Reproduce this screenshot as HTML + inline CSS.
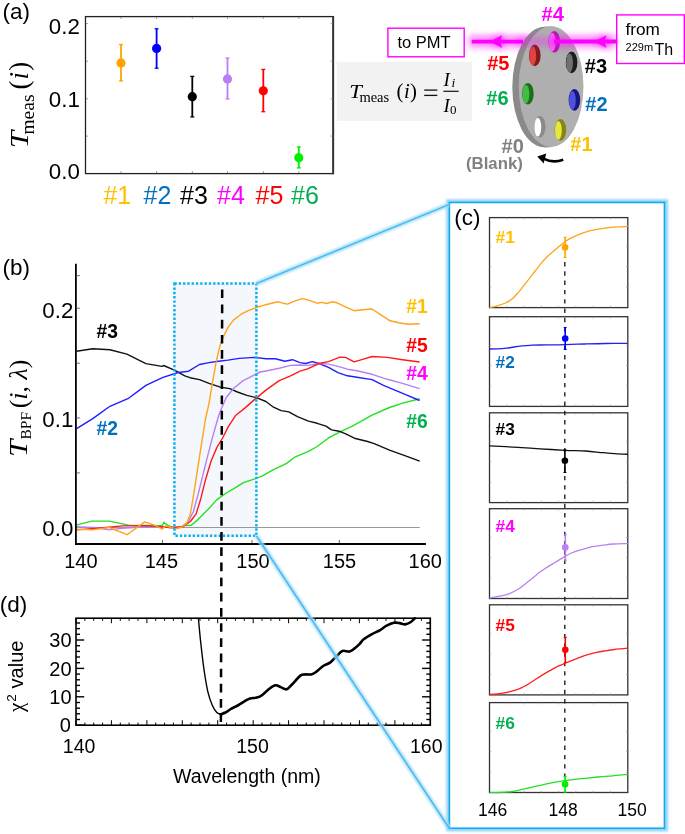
<!DOCTYPE html><html><head><meta charset="utf-8"><title>fig</title><style>
html,body{margin:0;padding:0;background:#fff;overflow:hidden;}svg{display:block;will-change:transform;}
text{font-family:"Liberation Sans", sans-serif;}
.sf{font-family:"Liberation Serif", serif;}
</style></head><body>
<svg width="685" height="834" viewBox="0 0 685 834">
<defs>
<filter id="glowM" filterUnits="userSpaceOnUse" x="0" y="0" width="685" height="834"><feGaussianBlur stdDeviation="3"/></filter>
<filter id="glowB" filterUnits="userSpaceOnUse" x="0" y="0" width="685" height="834"><feGaussianBlur stdDeviation="1.1"/></filter>
<filter id="noise" x="0" y="0" width="100%" height="100%"><feTurbulence type="fractalNoise" baseFrequency="0.9" numOctaves="2" seed="3" result="n"/><feColorMatrix in="n" type="matrix" values="0 0 0 0 0.5  0 0 0 0 0.5  0 0 0 0 0.5  0 0 0 0.35 0" result="g"/><feComposite in="g" in2="SourceGraphic" operator="in" result="gc"/><feBlend in="SourceGraphic" in2="gc" mode="multiply"/></filter>
</defs>
<rect width="685" height="834" fill="#fff"/>
<text x="2.6" y="19" font-size="22.5">(a)</text>
<rect x="85.5" y="16.6" width="247.7" height="157" fill="none" stroke="#222" stroke-width="1.3"/>
<line x1="333.2" y1="16" x2="333.2" y2="174.2" stroke="#333" stroke-width="1.9"/>
<line x1="86" y1="23.6" x2="88.2" y2="23.6" stroke="#888" stroke-width="0.8"/>
<line x1="330.6" y1="23.6" x2="332.8" y2="23.6" stroke="#888" stroke-width="0.8"/>
<line x1="86" y1="61.2" x2="88.2" y2="61.2" stroke="#888" stroke-width="0.8"/>
<line x1="330.6" y1="61.2" x2="332.8" y2="61.2" stroke="#888" stroke-width="0.8"/>
<line x1="86" y1="98.8" x2="88.2" y2="98.8" stroke="#888" stroke-width="0.8"/>
<line x1="330.6" y1="98.8" x2="332.8" y2="98.8" stroke="#888" stroke-width="0.8"/>
<line x1="86" y1="136.1" x2="88.2" y2="136.1" stroke="#888" stroke-width="0.8"/>
<line x1="330.6" y1="136.1" x2="332.8" y2="136.1" stroke="#888" stroke-width="0.8"/>
<line x1="121.0" y1="17" x2="121.0" y2="19" stroke="#888" stroke-width="0.8"/>
<line x1="121.0" y1="171" x2="121.0" y2="173" stroke="#888" stroke-width="0.8"/>
<line x1="156.6" y1="17" x2="156.6" y2="19" stroke="#888" stroke-width="0.8"/>
<line x1="156.6" y1="171" x2="156.6" y2="173" stroke="#888" stroke-width="0.8"/>
<line x1="192.3" y1="17" x2="192.3" y2="19" stroke="#888" stroke-width="0.8"/>
<line x1="192.3" y1="171" x2="192.3" y2="173" stroke="#888" stroke-width="0.8"/>
<line x1="227.5" y1="17" x2="227.5" y2="19" stroke="#888" stroke-width="0.8"/>
<line x1="227.5" y1="171" x2="227.5" y2="173" stroke="#888" stroke-width="0.8"/>
<line x1="263.3" y1="17" x2="263.3" y2="19" stroke="#888" stroke-width="0.8"/>
<line x1="263.3" y1="171" x2="263.3" y2="173" stroke="#888" stroke-width="0.8"/>
<line x1="298.8" y1="17" x2="298.8" y2="19" stroke="#888" stroke-width="0.8"/>
<line x1="298.8" y1="171" x2="298.8" y2="173" stroke="#888" stroke-width="0.8"/>
<text x="48.8" y="33.5" font-size="22.3">0.2</text>
<text x="48.8" y="106.5" font-size="22.3">0.1</text>
<text x="48.8" y="178.5" font-size="22.3">0.0</text>
<g transform="rotate(-90)">
<text transform="translate(-148.3,28.4) scale(1.2,1)" font-size="26" font-style="italic" class="sf">T</text>
<text x="-134.6" y="33.6" font-size="19.5" class="sf">meas</text>
<text x="-89.6" y="28.4" font-size="27" letter-spacing="1.2" class="sf">(<tspan font-style="italic">i</tspan>)</text>
</g>
<line x1="121.0" y1="44.5" x2="121.0" y2="81.0" stroke="#ffa500" stroke-width="1.8"/>
<line x1="119.0" y1="44.5" x2="123.0" y2="44.5" stroke="#ffa500" stroke-width="1.3"/>
<line x1="119.0" y1="81.0" x2="123.0" y2="81.0" stroke="#ffa500" stroke-width="1.3"/>
<circle cx="121.0" cy="62.9" r="4.6" fill="#ffa500"/>
<line x1="156.6" y1="28.8" x2="156.6" y2="68.2" stroke="#0000ff" stroke-width="1.8"/>
<line x1="154.6" y1="28.8" x2="158.6" y2="28.8" stroke="#0000ff" stroke-width="1.3"/>
<line x1="154.6" y1="68.2" x2="158.6" y2="68.2" stroke="#0000ff" stroke-width="1.3"/>
<circle cx="156.6" cy="48.4" r="4.6" fill="#0000ff"/>
<line x1="192.3" y1="76.4" x2="192.3" y2="116.9" stroke="#000000" stroke-width="1.8"/>
<line x1="190.3" y1="76.4" x2="194.3" y2="76.4" stroke="#000000" stroke-width="1.3"/>
<line x1="190.3" y1="116.9" x2="194.3" y2="116.9" stroke="#000000" stroke-width="1.3"/>
<circle cx="192.3" cy="96.7" r="4.6" fill="#000000"/>
<line x1="227.5" y1="58.0" x2="227.5" y2="99.0" stroke="#b87ff7" stroke-width="1.8"/>
<line x1="225.5" y1="58.0" x2="229.5" y2="58.0" stroke="#b87ff7" stroke-width="1.3"/>
<line x1="225.5" y1="99.0" x2="229.5" y2="99.0" stroke="#b87ff7" stroke-width="1.3"/>
<circle cx="227.5" cy="78.9" r="4.6" fill="#b87ff7"/>
<line x1="263.3" y1="69.4" x2="263.3" y2="111.7" stroke="#ff0000" stroke-width="1.8"/>
<line x1="261.3" y1="69.4" x2="265.3" y2="69.4" stroke="#ff0000" stroke-width="1.3"/>
<line x1="261.3" y1="111.7" x2="265.3" y2="111.7" stroke="#ff0000" stroke-width="1.3"/>
<circle cx="263.3" cy="90.8" r="4.6" fill="#ff0000"/>
<line x1="298.8" y1="146.9" x2="298.8" y2="167.9" stroke="#00ee00" stroke-width="1.8"/>
<line x1="296.8" y1="146.9" x2="300.8" y2="146.9" stroke="#00ee00" stroke-width="1.3"/>
<line x1="296.8" y1="167.9" x2="300.8" y2="167.9" stroke="#00ee00" stroke-width="1.3"/>
<circle cx="298.8" cy="157.7" r="4.6" fill="#00ee00"/>
<text x="103.4" y="203.8" font-size="25" fill="#ffc000">#1</text>
<text x="143.6" y="203.8" font-size="25" fill="#0070c0">#2</text>
<text x="180.0" y="203.8" font-size="25" fill="#000">#3</text>
<text x="217.0" y="203.8" font-size="25" fill="#ff00ff">#4</text>
<text x="255.5" y="203.8" font-size="25" fill="#ff0000">#5</text>
<text x="291.1" y="203.8" font-size="25" fill="#00b050">#6</text>
<rect x="336.6" y="62" width="135.3" height="58.8" fill="#f2f2f2"/>
<text transform="translate(349.2,97.7) scale(1.16,1)" font-size="19.5" font-style="italic" class="sf">T</text>
<text x="359.4" y="101.5" font-size="14.5" class="sf">meas</text>
<text x="396.6" y="98.2" font-size="20.8" letter-spacing="0.4" class="sf">(<tspan font-style="italic">i</tspan>)</text>
<line x1="424.2" y1="90.1" x2="437.3" y2="90.1" stroke="#111" stroke-width="1.3"/>
<line x1="424.2" y1="95.4" x2="437.3" y2="95.4" stroke="#111" stroke-width="1.3"/>
<line x1="443.4" y1="91.3" x2="458.7" y2="91.3" stroke="#111" stroke-width="1.2"/>
<text x="443.6" y="86.1" font-size="19" font-style="italic" class="sf">I</text>
<text x="451.6" y="87.4" font-size="13.5" font-style="italic" class="sf">i</text>
<text x="443.6" y="112.4" font-size="19" font-style="italic" class="sf">I</text>
<text x="450" y="114.4" font-size="13" class="sf">0</text>
<rect x="387.9" y="28.2" width="76.3" height="28.6" fill="#fff" stroke="#ff00ff" stroke-width="1.4"/>
<text x="397.5" y="48.3" font-size="16.5">to PMT</text>
<rect x="616.7" y="14.9" width="67.6" height="48.6" fill="#fff" stroke="#ff00ff" stroke-width="1.4"/>
<text x="625.5" y="35.3" font-size="17.2">from</text>
<text x="625.6" y="50.6" font-size="11">229m</text>
<text x="654.6" y="54.9" font-size="16">Th</text>
<line x1="469" y1="41.6" x2="530" y2="41.6" stroke="#ff00ff" stroke-width="12" stroke-opacity="0.48" filter="url(#glowM)"/>
<polygon points="488,41.6 503,33.5 503,49.7" fill="#ff00ff" fill-opacity="0.5" filter="url(#glowM)"/>
<ellipse cx="544.6" cy="87" rx="32.3" ry="60.3" fill="#8a8a8a"/>
<rect x="544.6" y="26.7" width="6.5" height="120.6" fill="#8a8a8a"/>
<ellipse cx="551.1" cy="86.6" rx="32.3" ry="60.3" fill="#b2b2b2"/>
<ellipse cx="551.1" cy="86.6" rx="32.3" ry="60.3" fill="#b2b2b2" filter="url(#noise)" opacity="0.3"/>
<ellipse cx="554.3" cy="41.8" rx="5.8" ry="10.8" fill="#a020a0"/>
<ellipse cx="552.3" cy="42.2" rx="3.4" ry="9.4" fill="#f070f0"/>
<ellipse cx="534.8" cy="55.4" rx="5.8" ry="10.8" fill="#861818"/>
<ellipse cx="532.8" cy="55.8" rx="3.4" ry="9.4" fill="#dd4444"/>
<ellipse cx="571.6" cy="62.4" rx="5.8" ry="10.8" fill="#1c1c1c"/>
<ellipse cx="569.6" cy="62.8" rx="3.4" ry="9.4" fill="#707070"/>
<ellipse cx="527.9" cy="93.7" rx="5.8" ry="10.8" fill="#1a701a"/>
<ellipse cx="525.9" cy="94.1" rx="3.4" ry="9.4" fill="#44bb44"/>
<ellipse cx="574.4" cy="99.9" rx="5.8" ry="10.8" fill="#161680"/>
<ellipse cx="572.4" cy="100.3" rx="3.4" ry="9.4" fill="#5050e0"/>
<ellipse cx="539.8" cy="126.7" rx="5.8" ry="10.8" fill="#8a8a8a"/>
<ellipse cx="537.8" cy="127.1" rx="3.4" ry="9.4" fill="#ffffff"/>
<ellipse cx="560.4" cy="129.9" rx="5.8" ry="10.8" fill="#86860e"/>
<ellipse cx="558.4" cy="130.3" rx="3.4" ry="9.4" fill="#e6e640"/>
<line x1="517" y1="41.6" x2="556" y2="41.6" stroke="#ff00ff" stroke-width="9" stroke-opacity="0.32" filter="url(#glowM)"/>
<line x1="553" y1="41.6" x2="616" y2="41.6" stroke="#ff00ff" stroke-width="12" stroke-opacity="0.48" filter="url(#glowM)"/>
<polygon points="592.5,41.6 607.5,33.5 607.5,49.7" fill="#ff00ff" fill-opacity="0.5" filter="url(#glowM)"/>
<line x1="554" y1="41.6" x2="616" y2="41.6" stroke="#ff00ff" stroke-width="4"/>
<polygon points="594,41.6 606.5,35.2 604.5,41.6 606.5,48" fill="#ff00ff"/>
<line x1="471.7" y1="41.6" x2="523" y2="41.6" stroke="#ff00ff" stroke-width="3.6"/>
<polygon points="489.5,41.6 502.2,35.2 500.2,41.6 502.2,48" fill="#ff00ff"/>
<text x="541.6" y="21" font-size="20" font-weight="bold" fill="#ff00ff">#4</text>
<text x="487.2" y="70.2" font-size="20" font-weight="bold" fill="#ff0000">#5</text>
<text x="584.8" y="73" font-size="20" font-weight="bold" fill="#000">#3</text>
<text x="486.3" y="105.2" font-size="20" font-weight="bold" fill="#00b050">#6</text>
<text x="585.3" y="110.6" font-size="20" font-weight="bold" fill="#0070c0">#2</text>
<text x="570.3" y="151.3" font-size="20" font-weight="bold" fill="#ffc000">#1</text>
<text x="501.6" y="153.3" font-size="20" font-weight="bold" fill="#808080">#0</text>
<text x="466" y="168.6" font-size="16.8" font-weight="bold" fill="#808080">(Blank)</text>
<path d="M563.2,159.7 Q553,163.5 543.5,158.6" fill="none" stroke="#000" stroke-width="2.6"/>
<polygon points="537.3,156.6 546.3,153.6 543.6,163.6" fill="#000"/>
<text x="2.6" y="275.4" font-size="22.5">(b)</text>
<rect x="174.4" y="283.5" width="82" height="252.3" fill="#f4f8fc"/>
<line x1="76" y1="527.5" x2="419.8" y2="527.5" stroke="#999" stroke-width="1"/>
<polyline points="76.2,525.1 91.7,521.1 109.3,521.1 128.6,525.1 162.3,525.6 163.9,522.3 167.6,525.3 175.2,528.1 184.7,525.6 191.3,525.3 198.0,519.6 207.4,510.1 216.9,499.6 226.4,493.0 235.9,487.3 243.5,482.6 254.9,478.8 262.5,475.9 273.9,469.3 280.0,466.6 286.6,463.4 295.3,456.8 308.5,451.3 317.2,446.5 328.2,438.2 339.1,432.3 352.3,426.1 363.2,420.2 372.0,415.2 389.5,407.5 402.6,403.1 419.7,398.8" fill="none" stroke="#22e022" stroke-width="1.40" stroke-linejoin="round"/>
<polyline points="76.6,351.2 92.8,348.8 109.9,349.7 126.9,354.1 145.9,363.6 162.0,366.4 163.6,365.5 174.4,370.2 184.8,375.9 190.0,377.7 199.5,379.6 209.0,383.4 220.4,387.2 229.9,388.6 237.4,392.0 246.9,395.4 256.4,397.7 265.9,401.5 273.5,407.2 281.1,410.6 288.8,411.9 297.5,416.7 308.5,421.1 317.2,423.3 326.0,426.1 331.5,429.9 339.1,431.2 345.7,433.8 354.4,438.2 367.6,441.5 374.2,443.6 389.5,450.2 404.8,455.7 419.7,461.2" fill="none" stroke="#111" stroke-width="1.40" stroke-linejoin="round"/>
<polyline points="76.6,428.7 92.8,418.6 109.9,406.3 127.9,398.7 145.9,385.4 163.0,377.4 178.2,372.5 188.6,371.2 199.5,364.5 209.0,362.6 218.5,361.2 228.0,360.1 239.3,358.4 254.5,357.4 265.9,358.8 275.4,358.8 284.9,361.2 292.5,359.7 300.0,362.6 305.7,363.5 312.3,361.6 319.0,363.5 328.5,367.3 338.0,372.6 347.4,375.8 356.9,377.2 372.1,379.6 383.5,385.3 394.9,390.1 406.3,394.8 419.6,400.5" fill="none" stroke="#1f1fff" stroke-width="1.40" stroke-linejoin="round"/>
<polyline points="76.2,526.7 93.3,527.5 109.3,529.9 122.2,528.3 146.3,526.7 163.9,526.7 173.6,528.3 180.9,527.2 188.5,521.5 193.2,512.0 198.0,494.9 202.7,475.9 207.4,456.9 213.1,435.1 218.8,415.2 221.3,409.1 226.1,397.7 233.7,388.2 243.1,380.6 252.6,375.8 260.2,372.0 269.7,370.2 279.2,368.3 290.6,365.4 300.1,365.0 307.6,365.4 319.0,363.5 328.5,364.1 338.0,366.4 347.4,369.2 356.9,370.7 372.1,374.3 387.3,379.3 402.5,383.4 419.6,388.6" fill="none" stroke="#b77ff5" stroke-width="1.40" stroke-linejoin="round"/>
<polyline points="76.2,529.9 98.1,528.3 122.2,525.9 146.3,525.6 170.4,527.5 182.8,526.8 190.4,521.5 196.1,513.9 200.8,498.7 205.5,479.7 211.2,460.7 216.9,447.4 222.6,438.0 228.3,426.6 235.9,415.2 245.4,407.6 254.5,399.6 265.9,390.1 279.2,380.6 290.6,375.8 300.0,371.1 307.6,368.8 319.0,363.5 328.5,361.6 339.9,357.2 345.5,357.4 354.1,361.9 362.6,359.3 372.1,356.5 387.3,357.4 402.5,359.7 419.6,362.0" fill="none" stroke="#ff1a1a" stroke-width="1.40" stroke-linejoin="round"/>
<polyline points="76.2,529.1 91.7,529.9 109.3,527.5 127.0,534.7 144.7,521.9 154.3,525.1 162.3,529.1 165.5,525.9 175.2,528.7 180.9,527.5 186.6,523.4 190.4,513.9 194.2,491.1 198.0,466.4 201.8,441.8 205.5,419.0 209.0,403.4 212.8,380.6 216.6,359.7 220.4,344.5 224.2,335.0 228.0,327.4 233.7,319.9 241.2,314.2 248.8,310.4 256.4,307.5 265.9,304.7 273.5,302.8 278.3,301.8 283.0,303.2 287.7,304.1 292.5,301.8 302.0,298.6 307.6,299.9 317.1,303.2 321.8,302.4 326.6,303.5 332.3,301.8 337.0,302.8 345.5,306.9 354.1,310.7 362.6,309.8 372.1,309.0 379.7,314.2 390.1,320.8 398.7,322.7 408.2,324.2 419.6,323.7" fill="none" stroke="#ffa31a" stroke-width="1.40" stroke-linejoin="round"/>
<rect x="174.4" y="283.5" width="82" height="252.3" fill="none" stroke="#0db0f0" stroke-width="2.5" stroke-dasharray="2.4 1.9"/>
<line x1="222.2" y1="289.4" x2="220.9" y2="722" stroke="#000" stroke-width="2.5" stroke-dasharray="8.7 6.47"/>
<line x1="75.9" y1="263.8" x2="75.9" y2="544.8" stroke="#000" stroke-width="1.8"/>
<line x1="75" y1="544" x2="425.9" y2="544" stroke="#000" stroke-width="1.9"/>
<line x1="76" y1="275.6" x2="79.8" y2="275.6" stroke="#555" stroke-width="0.9"/>
<line x1="76" y1="308.2" x2="79.8" y2="308.2" stroke="#555" stroke-width="0.9"/>
<line x1="76" y1="363.2" x2="79.8" y2="363.2" stroke="#555" stroke-width="0.9"/>
<line x1="76" y1="417.9" x2="79.8" y2="417.9" stroke="#555" stroke-width="0.9"/>
<line x1="76" y1="472.9" x2="79.8" y2="472.9" stroke="#555" stroke-width="0.9"/>
<line x1="162.5" y1="543" x2="162.5" y2="540" stroke="#555" stroke-width="0.9"/>
<line x1="252.0" y1="543" x2="252.0" y2="540" stroke="#555" stroke-width="0.9"/>
<line x1="339.3" y1="543" x2="339.3" y2="540" stroke="#555" stroke-width="0.9"/>
<text x="42.3" y="318.0" font-size="22.3">0.2</text>
<text x="42.3" y="427.0" font-size="22.3">0.1</text>
<text x="42.3" y="536.2" font-size="22.3">0.0</text>
<text x="64.2" y="568" font-size="20">140</text>
<text x="144.7" y="568" font-size="20">145</text>
<text x="236.3" y="568" font-size="20">150</text>
<text x="322.8" y="568" font-size="20">155</text>
<text x="408.6" y="568" font-size="20">160</text>
<text x="96.6" y="338.2" font-size="19.3" font-weight="bold" fill="#000">#3</text>
<text x="96.6" y="434.5" font-size="19.3" font-weight="bold" fill="#0070c0">#2</text>
<text x="406.2" y="313.3" font-size="19.3" font-weight="bold" fill="#ffc000">#1</text>
<text x="406.2" y="351.9" font-size="19.3" font-weight="bold" fill="#ff0000">#5</text>
<text x="406.2" y="379.8" font-size="19.3" font-weight="bold" fill="#ff00ff">#4</text>
<text x="406.2" y="427.5" font-size="19.3" font-weight="bold" fill="#00b050">#6</text>
<g transform="rotate(-90)">
<text transform="translate(-457,27) scale(1.2,1)" font-size="26" font-style="italic" class="sf">T</text>
<text x="-439.5" y="30.6" font-size="15.5" class="sf">BPF</text>
<text x="-408.3" y="27" font-size="26" class="sf">(<tspan font-style="italic">i</tspan>, <tspan font-style="italic">λ</tspan>)</text>
</g>
<text x="-0.3" y="611.9" font-size="22.5">(d)</text>
<rect x="76" y="618.2" width="354.3" height="107" fill="none" stroke="#000" stroke-width="1.6"/>
<line x1="76" y1="725.2" x2="84.2" y2="725.2" stroke="#000" stroke-width="1.4"/>
<line x1="430.3" y1="725.2" x2="422.1" y2="725.2" stroke="#000" stroke-width="1.4"/>
<line x1="76" y1="719.5" x2="80.0" y2="719.5" stroke="#000" stroke-width="1.4"/>
<line x1="430.3" y1="719.5" x2="426.3" y2="719.5" stroke="#000" stroke-width="1.4"/>
<line x1="76" y1="713.8" x2="80.0" y2="713.8" stroke="#000" stroke-width="1.4"/>
<line x1="430.3" y1="713.8" x2="426.3" y2="713.8" stroke="#000" stroke-width="1.4"/>
<line x1="76" y1="708.2" x2="80.0" y2="708.2" stroke="#000" stroke-width="1.4"/>
<line x1="430.3" y1="708.2" x2="426.3" y2="708.2" stroke="#000" stroke-width="1.4"/>
<line x1="76" y1="702.5" x2="80.0" y2="702.5" stroke="#000" stroke-width="1.4"/>
<line x1="430.3" y1="702.5" x2="426.3" y2="702.5" stroke="#000" stroke-width="1.4"/>
<line x1="76" y1="696.8" x2="84.2" y2="696.8" stroke="#000" stroke-width="1.4"/>
<line x1="430.3" y1="696.8" x2="422.1" y2="696.8" stroke="#000" stroke-width="1.4"/>
<line x1="76" y1="691.1" x2="80.0" y2="691.1" stroke="#000" stroke-width="1.4"/>
<line x1="430.3" y1="691.1" x2="426.3" y2="691.1" stroke="#000" stroke-width="1.4"/>
<line x1="76" y1="685.4" x2="80.0" y2="685.4" stroke="#000" stroke-width="1.4"/>
<line x1="430.3" y1="685.4" x2="426.3" y2="685.4" stroke="#000" stroke-width="1.4"/>
<line x1="76" y1="679.8" x2="80.0" y2="679.8" stroke="#000" stroke-width="1.4"/>
<line x1="430.3" y1="679.8" x2="426.3" y2="679.8" stroke="#000" stroke-width="1.4"/>
<line x1="76" y1="674.1" x2="80.0" y2="674.1" stroke="#000" stroke-width="1.4"/>
<line x1="430.3" y1="674.1" x2="426.3" y2="674.1" stroke="#000" stroke-width="1.4"/>
<line x1="76" y1="668.4" x2="84.2" y2="668.4" stroke="#000" stroke-width="1.4"/>
<line x1="430.3" y1="668.4" x2="422.1" y2="668.4" stroke="#000" stroke-width="1.4"/>
<line x1="76" y1="662.7" x2="80.0" y2="662.7" stroke="#000" stroke-width="1.4"/>
<line x1="430.3" y1="662.7" x2="426.3" y2="662.7" stroke="#000" stroke-width="1.4"/>
<line x1="76" y1="657.0" x2="80.0" y2="657.0" stroke="#000" stroke-width="1.4"/>
<line x1="430.3" y1="657.0" x2="426.3" y2="657.0" stroke="#000" stroke-width="1.4"/>
<line x1="76" y1="651.4" x2="80.0" y2="651.4" stroke="#000" stroke-width="1.4"/>
<line x1="430.3" y1="651.4" x2="426.3" y2="651.4" stroke="#000" stroke-width="1.4"/>
<line x1="76" y1="645.7" x2="80.0" y2="645.7" stroke="#000" stroke-width="1.4"/>
<line x1="430.3" y1="645.7" x2="426.3" y2="645.7" stroke="#000" stroke-width="1.4"/>
<line x1="76" y1="640.0" x2="84.2" y2="640.0" stroke="#000" stroke-width="1.4"/>
<line x1="430.3" y1="640.0" x2="422.1" y2="640.0" stroke="#000" stroke-width="1.4"/>
<line x1="76" y1="634.3" x2="80.0" y2="634.3" stroke="#000" stroke-width="1.4"/>
<line x1="430.3" y1="634.3" x2="426.3" y2="634.3" stroke="#000" stroke-width="1.4"/>
<line x1="76" y1="628.6" x2="80.0" y2="628.6" stroke="#000" stroke-width="1.4"/>
<line x1="430.3" y1="628.6" x2="426.3" y2="628.6" stroke="#000" stroke-width="1.4"/>
<line x1="76" y1="623.0" x2="80.0" y2="623.0" stroke="#000" stroke-width="1.4"/>
<line x1="430.3" y1="623.0" x2="426.3" y2="623.0" stroke="#000" stroke-width="1.4"/>
<line x1="76.0" y1="725.2" x2="76.0" y2="720.2" stroke="#000" stroke-width="1"/>
<line x1="76.0" y1="618.2" x2="76.0" y2="623.2" stroke="#000" stroke-width="1"/>
<line x1="84.9" y1="725.2" x2="84.9" y2="722.6" stroke="#000" stroke-width="1"/>
<line x1="84.9" y1="618.2" x2="84.9" y2="620.8" stroke="#000" stroke-width="1"/>
<line x1="93.7" y1="725.2" x2="93.7" y2="722.6" stroke="#000" stroke-width="1"/>
<line x1="93.7" y1="618.2" x2="93.7" y2="620.8" stroke="#000" stroke-width="1"/>
<line x1="102.6" y1="725.2" x2="102.6" y2="722.6" stroke="#000" stroke-width="1"/>
<line x1="102.6" y1="618.2" x2="102.6" y2="620.8" stroke="#000" stroke-width="1"/>
<line x1="111.4" y1="725.2" x2="111.4" y2="720.2" stroke="#000" stroke-width="1"/>
<line x1="111.4" y1="618.2" x2="111.4" y2="623.2" stroke="#000" stroke-width="1"/>
<line x1="120.3" y1="725.2" x2="120.3" y2="722.6" stroke="#000" stroke-width="1"/>
<line x1="120.3" y1="618.2" x2="120.3" y2="620.8" stroke="#000" stroke-width="1"/>
<line x1="129.1" y1="725.2" x2="129.1" y2="722.6" stroke="#000" stroke-width="1"/>
<line x1="129.1" y1="618.2" x2="129.1" y2="620.8" stroke="#000" stroke-width="1"/>
<line x1="138.0" y1="725.2" x2="138.0" y2="722.6" stroke="#000" stroke-width="1"/>
<line x1="138.0" y1="618.2" x2="138.0" y2="620.8" stroke="#000" stroke-width="1"/>
<line x1="146.9" y1="725.2" x2="146.9" y2="720.2" stroke="#000" stroke-width="1"/>
<line x1="146.9" y1="618.2" x2="146.9" y2="623.2" stroke="#000" stroke-width="1"/>
<line x1="155.7" y1="725.2" x2="155.7" y2="722.6" stroke="#000" stroke-width="1"/>
<line x1="155.7" y1="618.2" x2="155.7" y2="620.8" stroke="#000" stroke-width="1"/>
<line x1="164.6" y1="725.2" x2="164.6" y2="722.6" stroke="#000" stroke-width="1"/>
<line x1="164.6" y1="618.2" x2="164.6" y2="620.8" stroke="#000" stroke-width="1"/>
<line x1="173.4" y1="725.2" x2="173.4" y2="722.6" stroke="#000" stroke-width="1"/>
<line x1="173.4" y1="618.2" x2="173.4" y2="620.8" stroke="#000" stroke-width="1"/>
<line x1="182.3" y1="725.2" x2="182.3" y2="720.2" stroke="#000" stroke-width="1"/>
<line x1="182.3" y1="618.2" x2="182.3" y2="623.2" stroke="#000" stroke-width="1"/>
<line x1="191.1" y1="725.2" x2="191.1" y2="722.6" stroke="#000" stroke-width="1"/>
<line x1="191.1" y1="618.2" x2="191.1" y2="620.8" stroke="#000" stroke-width="1"/>
<line x1="200.0" y1="725.2" x2="200.0" y2="722.6" stroke="#000" stroke-width="1"/>
<line x1="200.0" y1="618.2" x2="200.0" y2="620.8" stroke="#000" stroke-width="1"/>
<line x1="208.9" y1="725.2" x2="208.9" y2="722.6" stroke="#000" stroke-width="1"/>
<line x1="208.9" y1="618.2" x2="208.9" y2="620.8" stroke="#000" stroke-width="1"/>
<line x1="217.7" y1="725.2" x2="217.7" y2="720.2" stroke="#000" stroke-width="1"/>
<line x1="217.7" y1="618.2" x2="217.7" y2="623.2" stroke="#000" stroke-width="1"/>
<line x1="226.6" y1="725.2" x2="226.6" y2="722.6" stroke="#000" stroke-width="1"/>
<line x1="226.6" y1="618.2" x2="226.6" y2="620.8" stroke="#000" stroke-width="1"/>
<line x1="235.4" y1="725.2" x2="235.4" y2="722.6" stroke="#000" stroke-width="1"/>
<line x1="235.4" y1="618.2" x2="235.4" y2="620.8" stroke="#000" stroke-width="1"/>
<line x1="244.3" y1="725.2" x2="244.3" y2="722.6" stroke="#000" stroke-width="1"/>
<line x1="244.3" y1="618.2" x2="244.3" y2="620.8" stroke="#000" stroke-width="1"/>
<line x1="253.2" y1="725.2" x2="253.2" y2="720.2" stroke="#000" stroke-width="1"/>
<line x1="253.2" y1="618.2" x2="253.2" y2="623.2" stroke="#000" stroke-width="1"/>
<line x1="262.0" y1="725.2" x2="262.0" y2="722.6" stroke="#000" stroke-width="1"/>
<line x1="262.0" y1="618.2" x2="262.0" y2="620.8" stroke="#000" stroke-width="1"/>
<line x1="270.9" y1="725.2" x2="270.9" y2="722.6" stroke="#000" stroke-width="1"/>
<line x1="270.9" y1="618.2" x2="270.9" y2="620.8" stroke="#000" stroke-width="1"/>
<line x1="279.7" y1="725.2" x2="279.7" y2="722.6" stroke="#000" stroke-width="1"/>
<line x1="279.7" y1="618.2" x2="279.7" y2="620.8" stroke="#000" stroke-width="1"/>
<line x1="288.6" y1="725.2" x2="288.6" y2="720.2" stroke="#000" stroke-width="1"/>
<line x1="288.6" y1="618.2" x2="288.6" y2="623.2" stroke="#000" stroke-width="1"/>
<line x1="297.4" y1="725.2" x2="297.4" y2="722.6" stroke="#000" stroke-width="1"/>
<line x1="297.4" y1="618.2" x2="297.4" y2="620.8" stroke="#000" stroke-width="1"/>
<line x1="306.3" y1="725.2" x2="306.3" y2="722.6" stroke="#000" stroke-width="1"/>
<line x1="306.3" y1="618.2" x2="306.3" y2="620.8" stroke="#000" stroke-width="1"/>
<line x1="315.2" y1="725.2" x2="315.2" y2="722.6" stroke="#000" stroke-width="1"/>
<line x1="315.2" y1="618.2" x2="315.2" y2="620.8" stroke="#000" stroke-width="1"/>
<line x1="324.0" y1="725.2" x2="324.0" y2="720.2" stroke="#000" stroke-width="1"/>
<line x1="324.0" y1="618.2" x2="324.0" y2="623.2" stroke="#000" stroke-width="1"/>
<line x1="332.9" y1="725.2" x2="332.9" y2="722.6" stroke="#000" stroke-width="1"/>
<line x1="332.9" y1="618.2" x2="332.9" y2="620.8" stroke="#000" stroke-width="1"/>
<line x1="341.7" y1="725.2" x2="341.7" y2="722.6" stroke="#000" stroke-width="1"/>
<line x1="341.7" y1="618.2" x2="341.7" y2="620.8" stroke="#000" stroke-width="1"/>
<line x1="350.6" y1="725.2" x2="350.6" y2="722.6" stroke="#000" stroke-width="1"/>
<line x1="350.6" y1="618.2" x2="350.6" y2="620.8" stroke="#000" stroke-width="1"/>
<line x1="359.4" y1="725.2" x2="359.4" y2="720.2" stroke="#000" stroke-width="1"/>
<line x1="359.4" y1="618.2" x2="359.4" y2="623.2" stroke="#000" stroke-width="1"/>
<line x1="368.3" y1="725.2" x2="368.3" y2="722.6" stroke="#000" stroke-width="1"/>
<line x1="368.3" y1="618.2" x2="368.3" y2="620.8" stroke="#000" stroke-width="1"/>
<line x1="377.2" y1="725.2" x2="377.2" y2="722.6" stroke="#000" stroke-width="1"/>
<line x1="377.2" y1="618.2" x2="377.2" y2="620.8" stroke="#000" stroke-width="1"/>
<line x1="386.0" y1="725.2" x2="386.0" y2="722.6" stroke="#000" stroke-width="1"/>
<line x1="386.0" y1="618.2" x2="386.0" y2="620.8" stroke="#000" stroke-width="1"/>
<line x1="394.9" y1="725.2" x2="394.9" y2="720.2" stroke="#000" stroke-width="1"/>
<line x1="394.9" y1="618.2" x2="394.9" y2="623.2" stroke="#000" stroke-width="1"/>
<line x1="403.7" y1="725.2" x2="403.7" y2="722.6" stroke="#000" stroke-width="1"/>
<line x1="403.7" y1="618.2" x2="403.7" y2="620.8" stroke="#000" stroke-width="1"/>
<line x1="412.6" y1="725.2" x2="412.6" y2="722.6" stroke="#000" stroke-width="1"/>
<line x1="412.6" y1="618.2" x2="412.6" y2="620.8" stroke="#000" stroke-width="1"/>
<line x1="421.4" y1="725.2" x2="421.4" y2="722.6" stroke="#000" stroke-width="1"/>
<line x1="421.4" y1="618.2" x2="421.4" y2="620.8" stroke="#000" stroke-width="1"/>
<line x1="430.3" y1="725.2" x2="430.3" y2="720.2" stroke="#000" stroke-width="1"/>
<line x1="430.3" y1="618.2" x2="430.3" y2="623.2" stroke="#000" stroke-width="1"/>
<text x="49.3" y="647.2" font-size="20">30</text>
<text x="49.3" y="675.6" font-size="20">20</text>
<text x="49.3" y="704.0" font-size="20">10</text>
<text x="59.8" y="732.2" font-size="20">0</text>
<text x="62.8" y="753" font-size="19.5">140</text>
<text x="236.2" y="753" font-size="19.5">150</text>
<text x="410.0" y="753" font-size="19.5">160</text>
<text x="173" y="783.3" font-size="19.5">Wavelength (nm)</text>
<g transform="rotate(-90)">
<text x="-712" y="22.6" font-size="21" class="sf">χ</text>
<text x="-701.8" y="16.3" font-size="13.5">2</text>
<text x="-688.4" y="22.6" font-size="20">value</text>
</g>
<path d="M198.4,618.2 C198.8,622.7 200.0,635.9 201.0,645.0 C202.0,654.1 203.3,665.1 204.5,673.0 C205.7,680.9 206.7,686.9 208.0,692.3 C209.3,697.7 210.9,702.1 212.4,705.5 C213.9,708.9 215.4,711.0 216.8,712.5 C218.2,714.0 220.1,713.9 220.8,714.2" fill="none" stroke="#000" stroke-width="1.4"/>
<path d="M220.8,714.2 C221.6,713.9 223.8,713.4 225.5,712.5 C227.2,711.6 228.8,710.2 230.8,709.0 C232.9,707.8 235.5,706.8 237.8,705.5 C240.1,704.2 242.8,702.3 244.8,701.1 C246.8,699.9 248.0,699.1 250.0,698.5 C252.0,697.9 254.9,698.2 257.0,697.6 C259.1,697.0 260.2,696.5 262.3,695.0 C264.4,693.5 267.1,690.4 269.3,688.8 C271.5,687.2 273.6,685.6 275.5,685.3 C277.4,685.0 278.8,686.4 280.7,687.1 C282.6,687.8 284.7,689.7 286.6,689.3 C288.5,688.9 289.7,686.8 292.0,684.5 C294.3,682.2 298.2,677.3 300.4,675.6 C302.6,673.9 303.4,674.6 305.2,674.4 C307.0,674.2 309.4,674.8 311.2,674.4 C313.0,674.0 314.0,673.4 316.0,672.0 C318.0,670.6 320.8,667.6 323.2,666.0 C325.6,664.4 328.2,664.0 330.4,662.4 C332.6,660.8 334.4,658.3 336.4,656.4 C338.4,654.5 340.2,651.8 342.4,651.0 C344.6,650.2 347.5,652.0 349.5,651.6 C351.5,651.2 352.6,649.9 354.3,648.6 C356.0,647.3 358.1,645.4 359.7,643.8 C361.3,642.2 361.9,640.6 364.0,639.0 C366.1,637.4 369.3,635.6 372.0,634.1 C374.7,632.6 377.7,631.5 380.1,630.1 C382.5,628.7 384.3,626.9 386.6,625.7 C388.9,624.5 391.7,623.2 393.9,622.8 C396.1,622.4 397.7,622.8 399.6,623.1 C401.5,623.4 403.3,624.6 405.2,624.4 C407.1,624.2 409.3,623.0 410.9,622.0 C412.5,621.0 414.2,618.9 414.9,618.3" fill="none" stroke="#000" stroke-width="2.6" stroke-linejoin="round" stroke-linecap="round"/>
<rect x="447.8" y="200.9" width="218.6" height="628.9" fill="none" stroke="#8fd3f7" stroke-width="3.2" filter="url(#glowB)"/>
<rect x="449.3" y="202.4" width="215.2" height="625.9" fill="none" stroke="#15a8ec" stroke-width="1.6"/>
<line x1="256.4" y1="283.5" x2="448.6" y2="204.7" stroke="#9fdbf9" stroke-width="4.2" filter="url(#glowB)"/>
<line x1="256.4" y1="283.5" x2="448.6" y2="204.7" stroke="#3cb5ee" stroke-width="1.2"/>
<line x1="256.4" y1="535.8" x2="449.3" y2="828.3" stroke="#9fdbf9" stroke-width="4.2" filter="url(#glowB)"/>
<line x1="256.4" y1="535.8" x2="449.3" y2="828.3" stroke="#3cb5ee" stroke-width="1.2"/>
<text x="454.3" y="225.1" font-size="22.5">(c)</text>
<rect x="489.5" y="217.6" width="138.3" height="90.0" fill="#fff" stroke="#333" stroke-width="1.3"/>
<line x1="506.8" y1="217.6" x2="506.8" y2="219.4" stroke="#999" stroke-width="0.7"/>
<line x1="506.8" y1="307.6" x2="506.8" y2="305.8" stroke="#999" stroke-width="0.7"/>
<line x1="524.1" y1="217.6" x2="524.1" y2="219.4" stroke="#999" stroke-width="0.7"/>
<line x1="524.1" y1="307.6" x2="524.1" y2="305.8" stroke="#999" stroke-width="0.7"/>
<line x1="541.4" y1="217.6" x2="541.4" y2="219.4" stroke="#999" stroke-width="0.7"/>
<line x1="541.4" y1="307.6" x2="541.4" y2="305.8" stroke="#999" stroke-width="0.7"/>
<line x1="558.6" y1="217.6" x2="558.6" y2="219.4" stroke="#999" stroke-width="0.7"/>
<line x1="558.6" y1="307.6" x2="558.6" y2="305.8" stroke="#999" stroke-width="0.7"/>
<line x1="575.9" y1="217.6" x2="575.9" y2="219.4" stroke="#999" stroke-width="0.7"/>
<line x1="575.9" y1="307.6" x2="575.9" y2="305.8" stroke="#999" stroke-width="0.7"/>
<line x1="593.2" y1="217.6" x2="593.2" y2="219.4" stroke="#999" stroke-width="0.7"/>
<line x1="593.2" y1="307.6" x2="593.2" y2="305.8" stroke="#999" stroke-width="0.7"/>
<line x1="610.5" y1="217.6" x2="610.5" y2="219.4" stroke="#999" stroke-width="0.7"/>
<line x1="610.5" y1="307.6" x2="610.5" y2="305.8" stroke="#999" stroke-width="0.7"/>
<line x1="489.5" y1="287.1" x2="491.3" y2="287.1" stroke="#999" stroke-width="0.7"/>
<line x1="627.8" y1="287.1" x2="626.0" y2="287.1" stroke="#999" stroke-width="0.7"/>
<line x1="489.5" y1="266.7" x2="491.3" y2="266.7" stroke="#999" stroke-width="0.7"/>
<line x1="627.8" y1="266.7" x2="626.0" y2="266.7" stroke="#999" stroke-width="0.7"/>
<line x1="489.5" y1="246.2" x2="491.3" y2="246.2" stroke="#999" stroke-width="0.7"/>
<line x1="627.8" y1="246.2" x2="626.0" y2="246.2" stroke="#999" stroke-width="0.7"/>
<rect x="489.5" y="316.7" width="138.3" height="89.7" fill="#fff" stroke="#333" stroke-width="1.3"/>
<line x1="506.8" y1="316.7" x2="506.8" y2="318.5" stroke="#999" stroke-width="0.7"/>
<line x1="506.8" y1="406.4" x2="506.8" y2="404.6" stroke="#999" stroke-width="0.7"/>
<line x1="524.1" y1="316.7" x2="524.1" y2="318.5" stroke="#999" stroke-width="0.7"/>
<line x1="524.1" y1="406.4" x2="524.1" y2="404.6" stroke="#999" stroke-width="0.7"/>
<line x1="541.4" y1="316.7" x2="541.4" y2="318.5" stroke="#999" stroke-width="0.7"/>
<line x1="541.4" y1="406.4" x2="541.4" y2="404.6" stroke="#999" stroke-width="0.7"/>
<line x1="558.6" y1="316.7" x2="558.6" y2="318.5" stroke="#999" stroke-width="0.7"/>
<line x1="558.6" y1="406.4" x2="558.6" y2="404.6" stroke="#999" stroke-width="0.7"/>
<line x1="575.9" y1="316.7" x2="575.9" y2="318.5" stroke="#999" stroke-width="0.7"/>
<line x1="575.9" y1="406.4" x2="575.9" y2="404.6" stroke="#999" stroke-width="0.7"/>
<line x1="593.2" y1="316.7" x2="593.2" y2="318.5" stroke="#999" stroke-width="0.7"/>
<line x1="593.2" y1="406.4" x2="593.2" y2="404.6" stroke="#999" stroke-width="0.7"/>
<line x1="610.5" y1="316.7" x2="610.5" y2="318.5" stroke="#999" stroke-width="0.7"/>
<line x1="610.5" y1="406.4" x2="610.5" y2="404.6" stroke="#999" stroke-width="0.7"/>
<line x1="489.5" y1="386.0" x2="491.3" y2="386.0" stroke="#999" stroke-width="0.7"/>
<line x1="627.8" y1="386.0" x2="626.0" y2="386.0" stroke="#999" stroke-width="0.7"/>
<line x1="489.5" y1="365.6" x2="491.3" y2="365.6" stroke="#999" stroke-width="0.7"/>
<line x1="627.8" y1="365.6" x2="626.0" y2="365.6" stroke="#999" stroke-width="0.7"/>
<line x1="489.5" y1="345.2" x2="491.3" y2="345.2" stroke="#999" stroke-width="0.7"/>
<line x1="627.8" y1="345.2" x2="626.0" y2="345.2" stroke="#999" stroke-width="0.7"/>
<rect x="489.5" y="412.8" width="138.3" height="89.8" fill="#fff" stroke="#333" stroke-width="1.3"/>
<line x1="506.8" y1="412.8" x2="506.8" y2="414.6" stroke="#999" stroke-width="0.7"/>
<line x1="506.8" y1="502.6" x2="506.8" y2="500.8" stroke="#999" stroke-width="0.7"/>
<line x1="524.1" y1="412.8" x2="524.1" y2="414.6" stroke="#999" stroke-width="0.7"/>
<line x1="524.1" y1="502.6" x2="524.1" y2="500.8" stroke="#999" stroke-width="0.7"/>
<line x1="541.4" y1="412.8" x2="541.4" y2="414.6" stroke="#999" stroke-width="0.7"/>
<line x1="541.4" y1="502.6" x2="541.4" y2="500.8" stroke="#999" stroke-width="0.7"/>
<line x1="558.6" y1="412.8" x2="558.6" y2="414.6" stroke="#999" stroke-width="0.7"/>
<line x1="558.6" y1="502.6" x2="558.6" y2="500.8" stroke="#999" stroke-width="0.7"/>
<line x1="575.9" y1="412.8" x2="575.9" y2="414.6" stroke="#999" stroke-width="0.7"/>
<line x1="575.9" y1="502.6" x2="575.9" y2="500.8" stroke="#999" stroke-width="0.7"/>
<line x1="593.2" y1="412.8" x2="593.2" y2="414.6" stroke="#999" stroke-width="0.7"/>
<line x1="593.2" y1="502.6" x2="593.2" y2="500.8" stroke="#999" stroke-width="0.7"/>
<line x1="610.5" y1="412.8" x2="610.5" y2="414.6" stroke="#999" stroke-width="0.7"/>
<line x1="610.5" y1="502.6" x2="610.5" y2="500.8" stroke="#999" stroke-width="0.7"/>
<line x1="489.5" y1="482.2" x2="491.3" y2="482.2" stroke="#999" stroke-width="0.7"/>
<line x1="627.8" y1="482.2" x2="626.0" y2="482.2" stroke="#999" stroke-width="0.7"/>
<line x1="489.5" y1="461.8" x2="491.3" y2="461.8" stroke="#999" stroke-width="0.7"/>
<line x1="627.8" y1="461.8" x2="626.0" y2="461.8" stroke="#999" stroke-width="0.7"/>
<line x1="489.5" y1="441.4" x2="491.3" y2="441.4" stroke="#999" stroke-width="0.7"/>
<line x1="627.8" y1="441.4" x2="626.0" y2="441.4" stroke="#999" stroke-width="0.7"/>
<rect x="489.5" y="508.7" width="138.3" height="89.8" fill="#fff" stroke="#333" stroke-width="1.3"/>
<line x1="506.8" y1="508.7" x2="506.8" y2="510.5" stroke="#999" stroke-width="0.7"/>
<line x1="506.8" y1="598.5" x2="506.8" y2="596.7" stroke="#999" stroke-width="0.7"/>
<line x1="524.1" y1="508.7" x2="524.1" y2="510.5" stroke="#999" stroke-width="0.7"/>
<line x1="524.1" y1="598.5" x2="524.1" y2="596.7" stroke="#999" stroke-width="0.7"/>
<line x1="541.4" y1="508.7" x2="541.4" y2="510.5" stroke="#999" stroke-width="0.7"/>
<line x1="541.4" y1="598.5" x2="541.4" y2="596.7" stroke="#999" stroke-width="0.7"/>
<line x1="558.6" y1="508.7" x2="558.6" y2="510.5" stroke="#999" stroke-width="0.7"/>
<line x1="558.6" y1="598.5" x2="558.6" y2="596.7" stroke="#999" stroke-width="0.7"/>
<line x1="575.9" y1="508.7" x2="575.9" y2="510.5" stroke="#999" stroke-width="0.7"/>
<line x1="575.9" y1="598.5" x2="575.9" y2="596.7" stroke="#999" stroke-width="0.7"/>
<line x1="593.2" y1="508.7" x2="593.2" y2="510.5" stroke="#999" stroke-width="0.7"/>
<line x1="593.2" y1="598.5" x2="593.2" y2="596.7" stroke="#999" stroke-width="0.7"/>
<line x1="610.5" y1="508.7" x2="610.5" y2="510.5" stroke="#999" stroke-width="0.7"/>
<line x1="610.5" y1="598.5" x2="610.5" y2="596.7" stroke="#999" stroke-width="0.7"/>
<line x1="489.5" y1="578.1" x2="491.3" y2="578.1" stroke="#999" stroke-width="0.7"/>
<line x1="627.8" y1="578.1" x2="626.0" y2="578.1" stroke="#999" stroke-width="0.7"/>
<line x1="489.5" y1="557.7" x2="491.3" y2="557.7" stroke="#999" stroke-width="0.7"/>
<line x1="627.8" y1="557.7" x2="626.0" y2="557.7" stroke="#999" stroke-width="0.7"/>
<line x1="489.5" y1="537.3" x2="491.3" y2="537.3" stroke="#999" stroke-width="0.7"/>
<line x1="627.8" y1="537.3" x2="626.0" y2="537.3" stroke="#999" stroke-width="0.7"/>
<rect x="489.5" y="604.8" width="138.3" height="90.1" fill="#fff" stroke="#333" stroke-width="1.3"/>
<line x1="506.8" y1="604.8" x2="506.8" y2="606.6" stroke="#999" stroke-width="0.7"/>
<line x1="506.8" y1="694.9" x2="506.8" y2="693.1" stroke="#999" stroke-width="0.7"/>
<line x1="524.1" y1="604.8" x2="524.1" y2="606.6" stroke="#999" stroke-width="0.7"/>
<line x1="524.1" y1="694.9" x2="524.1" y2="693.1" stroke="#999" stroke-width="0.7"/>
<line x1="541.4" y1="604.8" x2="541.4" y2="606.6" stroke="#999" stroke-width="0.7"/>
<line x1="541.4" y1="694.9" x2="541.4" y2="693.1" stroke="#999" stroke-width="0.7"/>
<line x1="558.6" y1="604.8" x2="558.6" y2="606.6" stroke="#999" stroke-width="0.7"/>
<line x1="558.6" y1="694.9" x2="558.6" y2="693.1" stroke="#999" stroke-width="0.7"/>
<line x1="575.9" y1="604.8" x2="575.9" y2="606.6" stroke="#999" stroke-width="0.7"/>
<line x1="575.9" y1="694.9" x2="575.9" y2="693.1" stroke="#999" stroke-width="0.7"/>
<line x1="593.2" y1="604.8" x2="593.2" y2="606.6" stroke="#999" stroke-width="0.7"/>
<line x1="593.2" y1="694.9" x2="593.2" y2="693.1" stroke="#999" stroke-width="0.7"/>
<line x1="610.5" y1="604.8" x2="610.5" y2="606.6" stroke="#999" stroke-width="0.7"/>
<line x1="610.5" y1="694.9" x2="610.5" y2="693.1" stroke="#999" stroke-width="0.7"/>
<line x1="489.5" y1="674.4" x2="491.3" y2="674.4" stroke="#999" stroke-width="0.7"/>
<line x1="627.8" y1="674.4" x2="626.0" y2="674.4" stroke="#999" stroke-width="0.7"/>
<line x1="489.5" y1="653.9" x2="491.3" y2="653.9" stroke="#999" stroke-width="0.7"/>
<line x1="627.8" y1="653.9" x2="626.0" y2="653.9" stroke="#999" stroke-width="0.7"/>
<line x1="489.5" y1="633.5" x2="491.3" y2="633.5" stroke="#999" stroke-width="0.7"/>
<line x1="627.8" y1="633.5" x2="626.0" y2="633.5" stroke="#999" stroke-width="0.7"/>
<rect x="489.5" y="702.6" width="138.3" height="89.9" fill="#fff" stroke="#333" stroke-width="1.3"/>
<line x1="506.8" y1="702.6" x2="506.8" y2="704.4" stroke="#999" stroke-width="0.7"/>
<line x1="506.8" y1="792.5" x2="506.8" y2="790.7" stroke="#999" stroke-width="0.7"/>
<line x1="524.1" y1="702.6" x2="524.1" y2="704.4" stroke="#999" stroke-width="0.7"/>
<line x1="524.1" y1="792.5" x2="524.1" y2="790.7" stroke="#999" stroke-width="0.7"/>
<line x1="541.4" y1="702.6" x2="541.4" y2="704.4" stroke="#999" stroke-width="0.7"/>
<line x1="541.4" y1="792.5" x2="541.4" y2="790.7" stroke="#999" stroke-width="0.7"/>
<line x1="558.6" y1="702.6" x2="558.6" y2="704.4" stroke="#999" stroke-width="0.7"/>
<line x1="558.6" y1="792.5" x2="558.6" y2="790.7" stroke="#999" stroke-width="0.7"/>
<line x1="575.9" y1="702.6" x2="575.9" y2="704.4" stroke="#999" stroke-width="0.7"/>
<line x1="575.9" y1="792.5" x2="575.9" y2="790.7" stroke="#999" stroke-width="0.7"/>
<line x1="593.2" y1="702.6" x2="593.2" y2="704.4" stroke="#999" stroke-width="0.7"/>
<line x1="593.2" y1="792.5" x2="593.2" y2="790.7" stroke="#999" stroke-width="0.7"/>
<line x1="610.5" y1="702.6" x2="610.5" y2="704.4" stroke="#999" stroke-width="0.7"/>
<line x1="610.5" y1="792.5" x2="610.5" y2="790.7" stroke="#999" stroke-width="0.7"/>
<line x1="489.5" y1="772.1" x2="491.3" y2="772.1" stroke="#999" stroke-width="0.7"/>
<line x1="627.8" y1="772.1" x2="626.0" y2="772.1" stroke="#999" stroke-width="0.7"/>
<line x1="489.5" y1="751.6" x2="491.3" y2="751.6" stroke="#999" stroke-width="0.7"/>
<line x1="627.8" y1="751.6" x2="626.0" y2="751.6" stroke="#999" stroke-width="0.7"/>
<line x1="489.5" y1="731.2" x2="491.3" y2="731.2" stroke="#999" stroke-width="0.7"/>
<line x1="627.8" y1="731.2" x2="626.0" y2="731.2" stroke="#999" stroke-width="0.7"/>
<line x1="564.8" y1="262" x2="564.8" y2="777" stroke="#222" stroke-width="1.4" stroke-dasharray="4.4 4.9"/>
<path d="M489.6,307.7 C490.9,307.4 494.7,306.7 497.3,305.9 C499.9,305.1 503.1,304.1 505.5,303.0 C507.9,301.9 509.4,301.1 511.4,299.5 C513.4,297.9 515.3,295.8 517.2,293.7 C519.1,291.6 521.0,289.1 523.0,286.7 C525.0,284.3 526.9,281.6 528.9,279.1 C530.9,276.6 532.8,274.0 534.7,271.5 C536.7,269.0 538.7,266.2 540.6,263.9 C542.5,261.6 544.5,259.4 546.4,257.5 C548.3,255.6 550.2,253.9 552.2,252.2 C554.2,250.5 556.0,249.1 558.1,247.3 C560.2,245.6 562.7,243.3 564.9,241.7 C567.1,240.1 569.0,239.1 571.4,237.9 C573.8,236.7 576.4,235.5 579.1,234.4 C581.8,233.3 584.9,232.1 587.8,231.3 C590.7,230.5 593.7,230.0 596.6,229.4 C599.5,228.8 602.5,228.4 605.4,228.0 C608.3,227.6 610.4,227.5 614.1,227.2 C617.8,226.9 625.5,226.5 627.8,226.4" fill="none" stroke="#ffa31a" stroke-width="1.3"/>
<line x1="565.1" y1="237.4" x2="565.1" y2="257.4" stroke="#ffa500" stroke-width="1.6"/>
<line x1="563.6" y1="237.4" x2="566.6" y2="237.4" stroke="#ffa500" stroke-width="1.1"/>
<line x1="563.6" y1="257.4" x2="566.6" y2="257.4" stroke="#ffa500" stroke-width="1.1"/>
<circle cx="565.1" cy="247.4" r="3.3" fill="#ffa500"/>
<text x="495.6" y="242.5" font-size="17.3" font-weight="bold" fill="#ffc000">#1</text>
<path d="M489.4,349.0 C490.7,349.0 494.1,349.0 497.0,348.9 C499.9,348.8 504.1,348.5 506.9,348.2 C509.7,347.9 511.4,347.4 514.0,347.0 C516.5,346.6 519.5,346.2 522.2,345.9 C524.9,345.6 527.0,345.4 530.0,345.3 C533.0,345.2 534.2,345.1 540.0,345.0 C545.8,344.9 557.4,344.8 564.9,344.6 C572.4,344.4 578.2,344.2 585.0,344.0 C591.8,343.8 598.3,343.6 605.4,343.5 C612.5,343.4 624.1,343.3 627.8,343.3" fill="none" stroke="#2222ee" stroke-width="1.3"/>
<line x1="565.2" y1="327.5" x2="565.2" y2="349.4" stroke="#0000ff" stroke-width="1.6"/>
<line x1="563.7" y1="327.5" x2="566.7" y2="327.5" stroke="#0000ff" stroke-width="1.1"/>
<line x1="563.7" y1="349.4" x2="566.7" y2="349.4" stroke="#0000ff" stroke-width="1.1"/>
<circle cx="565.2" cy="338.5" r="3.3" fill="#0000ff"/>
<text x="495.6" y="368.1" font-size="17.3" font-weight="bold" fill="#0070c0">#2</text>
<path d="M489.4,445.9 C494.1,446.1 509.4,446.8 517.8,447.3 C526.2,447.8 532.1,448.3 540.0,448.8 C547.9,449.3 557.3,449.9 564.9,450.3 C572.5,450.7 579.3,450.6 585.7,451.0 C592.1,451.4 598.3,452.3 603.2,452.7 C608.1,453.1 610.9,453.3 615.0,453.6 C619.1,453.9 625.7,454.2 627.8,454.3" fill="none" stroke="#111" stroke-width="1.3"/>
<line x1="564.9" y1="449.9" x2="564.9" y2="472.4" stroke="#000" stroke-width="1.6"/>
<line x1="563.4" y1="449.9" x2="566.4" y2="449.9" stroke="#000" stroke-width="1.1"/>
<line x1="563.4" y1="472.4" x2="566.4" y2="472.4" stroke="#000" stroke-width="1.1"/>
<circle cx="564.9" cy="460.8" r="3.3" fill="#000"/>
<text x="495.6" y="435.3" font-size="17.3" font-weight="bold" fill="#000">#3</text>
<path d="M489.6,597.9 C491.3,597.6 496.5,596.9 499.7,596.2 C502.9,595.5 506.1,594.9 509.0,593.8 C511.9,592.7 514.9,591.1 517.2,589.8 C519.5,588.4 521.0,587.2 523.0,585.7 C525.0,584.2 526.9,582.6 528.9,581.0 C530.9,579.4 532.8,577.9 534.7,576.3 C536.7,574.7 538.7,573.0 540.6,571.6 C542.5,570.2 544.5,568.9 546.4,567.6 C548.3,566.4 550.2,565.3 552.2,564.1 C554.2,562.9 555.9,561.9 558.1,560.6 C560.3,559.3 563.2,557.4 565.4,556.1 C567.6,554.8 569.1,554.0 571.4,553.0 C573.7,552.0 576.4,551.2 579.1,550.3 C581.8,549.4 584.9,548.5 587.8,547.8 C590.7,547.1 593.7,546.6 596.6,546.1 C599.5,545.6 602.5,545.1 605.4,544.8 C608.3,544.4 610.4,544.2 614.1,544.0 C617.8,543.8 625.5,543.7 627.8,543.6" fill="none" stroke="#b880f5" stroke-width="1.3"/>
<line x1="565.3" y1="534.6" x2="565.3" y2="560.1" stroke="#b87ff7" stroke-width="1.6"/>
<line x1="563.8" y1="534.6" x2="566.8" y2="534.6" stroke="#b87ff7" stroke-width="1.1"/>
<line x1="563.8" y1="560.1" x2="566.8" y2="560.1" stroke="#b87ff7" stroke-width="1.1"/>
<circle cx="565.3" cy="547.4" r="3.3" fill="#b87ff7"/>
<text x="495.6" y="531.8" font-size="17.3" font-weight="bold" fill="#ff00ff">#4</text>
<path d="M489.6,694.5 C491.3,694.4 496.5,694.0 499.7,693.6 C502.9,693.2 506.1,692.6 509.0,691.9 C511.9,691.2 514.9,690.4 517.2,689.6 C519.5,688.8 521.0,688.0 523.0,687.0 C525.0,686.0 526.9,684.9 528.9,683.7 C530.9,682.5 532.8,681.3 534.7,680.0 C536.7,678.7 538.7,677.3 540.6,676.1 C542.5,674.9 544.5,673.7 546.4,672.6 C548.3,671.5 550.2,670.5 552.2,669.4 C554.2,668.3 555.9,667.2 558.1,666.2 C560.3,665.2 563.2,664.1 565.4,663.2 C567.6,662.3 569.1,661.6 571.4,660.7 C573.7,659.8 576.4,658.7 579.1,657.7 C581.8,656.7 584.9,655.6 587.8,654.7 C590.7,653.8 593.7,653.0 596.6,652.4 C599.5,651.8 602.5,651.3 605.4,650.8 C608.3,650.3 610.4,650.0 614.1,649.5 C617.8,649.0 625.5,648.3 627.8,648.1" fill="none" stroke="#ff2020" stroke-width="1.3"/>
<line x1="565.3" y1="637.3" x2="565.3" y2="662.6" stroke="#ff0000" stroke-width="1.6"/>
<line x1="563.8" y1="637.3" x2="566.8" y2="637.3" stroke="#ff0000" stroke-width="1.1"/>
<line x1="563.8" y1="662.6" x2="566.8" y2="662.6" stroke="#ff0000" stroke-width="1.1"/>
<circle cx="565.3" cy="649.8" r="3.3" fill="#ff0000"/>
<text x="495.6" y="631.0" font-size="17.3" font-weight="bold" fill="#ff0000">#5</text>
<path d="M489.6,792.5 C491.4,792.5 496.5,792.7 500.4,792.5 C504.3,792.3 508.8,792.1 512.9,791.5 C517.0,790.9 521.1,789.5 525.3,788.6 C529.4,787.7 533.6,786.8 537.8,785.9 C541.9,785.0 545.7,784.1 550.2,783.2 C554.7,782.3 559.5,781.5 564.7,780.7 C569.9,780.0 575.8,779.3 581.3,778.7 C586.8,778.1 592.7,777.5 597.9,777.0 C603.1,776.5 607.4,776.2 612.4,775.8 C617.4,775.4 625.2,774.6 627.8,774.4" fill="none" stroke="#22e022" stroke-width="1.3"/>
<line x1="565.1" y1="776.6" x2="565.1" y2="792.1" stroke="#00ee00" stroke-width="1.6"/>
<line x1="563.6" y1="776.6" x2="566.6" y2="776.6" stroke="#00ee00" stroke-width="1.1"/>
<line x1="563.6" y1="792.1" x2="566.6" y2="792.1" stroke="#00ee00" stroke-width="1.1"/>
<circle cx="565.1" cy="784.3" r="3.3" fill="#00ee00"/>
<text x="495.6" y="729.0" font-size="17.3" font-weight="bold" fill="#00b050">#6</text>
<text x="478.0" y="815.9" font-size="17.5">146</text>
<text x="548.6" y="815.9" font-size="17.5">148</text>
<text x="617.6" y="815.9" font-size="17.5">150</text>
</svg></body></html>
